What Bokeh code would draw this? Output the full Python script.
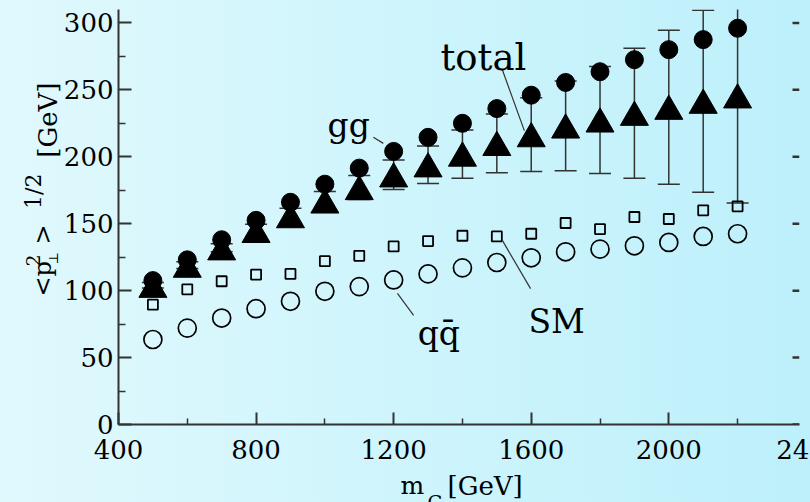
import math
from bokeh.plotting import figure
from bokeh.models import (ColumnDataSource, Range1d, LinearAxis, FixedTicker, Whisker,
                          TeeHead, Label, GlobalInlineStyleSheet)
from bokeh.transform import dodge
from bokeh.embed import file_html
from bokeh.resources import INLINE

# ---------------- data ----------------
mass = [500, 600, 700, 800, 900, 1000, 1100, 1200, 1300, 1400, 1500,
        1600, 1700, 1800, 1900, 2000, 2100, 2200]
gg = [107.5, 123, 138, 152.5, 166, 179.5, 191.5, 204, 214.5, 225, 236,
      246, 255.5, 263.5, 272.5, 280, 287.5, 296]
total = [104, 119, 132, 145, 156, 167, 177, 186.5, 194, 202, 210,
         216.5, 223, 227.5, 232.5, 237, 241.5, 245.5]
total_err = [2, 2.5, 3, 4.5, 5.5, 7, 9, 11, 14, 18, 22,
             27.5, 33.5, 40, 48.5, 57.5, 68, 80]
sm = [89.5, 101, 107, 112, 112.5, 122, 126, 133, 137, 141, 140.5,
      142.5, 150.5, 146, 155, 153.5, 160, 163]
qqbar = [63.5, 72, 79.5, 86.5, 92, 99.5, 103, 108, 112.5, 117, 121,
         124.5, 129, 131, 133.5, 136, 140.5, 142.5]

x_ticks = [400, 800, 1200, 1600, 2000, 2400]
x_minor = [600, 1000, 1400, 1800, 2200]
y_ticks = [0, 50, 100, 150, 200, 250, 300]
y_minor = [25, 75, 125, 175, 225, 275]

# ---------------- styling ----------------
FONT = "DejaVu Serif"
AX = "#333333"
X0, X1, Y0, Y1 = 400, 2380, 0, 310
FW, FH = 681, 415          # frame size in px
FL, FB = 118, 424          # frame left / bottom in page px
XPP = (X1 - X0) / FW       # data units per pixel along x

def px(rx, ry):
    """page pixel -> data coordinates (for placing titles outside the frame)"""
    return X0 + (rx - FL) * XPP, Y0 + (FB - ry) * (Y1 - Y0) / FH

src = ColumnDataSource(dict(
    mass=mass, gg=gg, total=total, sm=sm, qq=qqbar,
    upper=[t + e for t, e in zip(total, total_err)],
    lower=[t - e for t, e in zip(total, total_err)],
))

p = figure(frame_width=FW, frame_height=FH, x_range=Range1d(X0, X1), y_range=Range1d(Y0, Y1),
           output_backend="svg", toolbar_location=None,
           x_axis_location=None, y_axis_location=None)
p.min_border_left = FL
p.min_border_right = 11
p.min_border_top = 9
p.min_border_bottom = 78
p.outline_line_color = None
p.background_fill_color = None
p.border_fill_color = None
p.xgrid.grid_line_color = None
p.ygrid.grid_line_color = None
p.stylesheets = [GlobalInlineStyleSheet(
    css="html, body { overflow: hidden !important; "
        "background: linear-gradient(to right, #e0f9fd, #bdf0fb) !important; }")]

# axes
xb = LinearAxis(ticker=FixedTicker(ticks=x_ticks, minor_ticks=x_minor))
yl = LinearAxis(ticker=FixedTicker(ticks=y_ticks, minor_ticks=y_minor))
for ax in (xb, yl):
    ax.axis_line_color = AX
    ax.axis_line_width = 2
    ax.major_tick_line_color = AX
    ax.minor_tick_line_color = AX
    ax.major_tick_line_width = 2
    ax.minor_tick_line_width = 1.5
    ax.major_tick_out = 0
    ax.minor_tick_out = 0
    ax.major_label_text_font = FONT
    ax.major_label_text_font_size = "26px"
    ax.major_label_text_color = "black"
xb.major_tick_in = 12
xb.minor_tick_in = 6
xb.major_label_standoff = 15
yl.major_tick_in = 13
yl.minor_tick_in = 7
yl.major_label_standoff = 5
p.add_layout(xb, "below")
p.add_layout(yl, "left")

# short inward ticks along the right edge of the frame
p.segment(x0=[X1 - 7 * XPP] * len(y_ticks), y0=y_ticks,
          x1=[X1] * len(y_ticks), y1=y_ticks, line_color=AX, line_width=2.5)

# markers
p.scatter("mass", "sm", source=src, marker="square", size=10, fill_color=None,
          line_color="black", line_width=1.8)
p.scatter("mass", "qq", source=src, marker="circle", size=18, fill_color=None,
          line_color="black", line_width=1.7)
wh = Whisker(source=src, base="mass", upper="upper", lower="lower", dimension="height",
             line_color=AX, line_width=1.5, level="underlay",
             upper_head=TeeHead(size=22, line_color=AX, line_width=1.5),
             lower_head=TeeHead(size=22, line_color=AX, line_width=1.5))
p.add_layout(wh)
p.scatter("mass", dodge("total", -3, range=p.y_range), source=src, marker="triangle",
          size=28, color="black")
p.scatter("mass", "gg", source=src, marker="circle", size=18, color="black")

# annotation leader lines (data-space positions of the callouts)
p.segment(x0=[1516, 1141, 1516, 1211], y0=[265, 214.5, 137.5, 98],
          x1=[1580, 1170, 1598, 1258], y1=[219.5, 210, 101.5, 81.5],
          line_color=AX, line_width=1.2)

def lab(text, x, y, size, side=None, **kw):
    kw.setdefault("text_baseline", "alphabetic")
    l = Label(x=x, y=y, text=text, text_font=FONT, text_font_size=size,
              text_color="black", **kw)
    if side is None:
        p.add_layout(l)
    else:
        p.add_layout(l, side)   # side-panel annotations are not clipped to the frame

lab("total", 1336, 274, "37px")
lab("gg", 1008, 223.5, "33px")
lab("SM", 1592, 77, "33px")
lab("q\u0071\u0304", 1270, 68, "33px")

# "2400" tick label just beyond the frame edge
lab("2400", 2400, px(0, FB + 15)[1], "26px", side="right", text_align="center",
    text_baseline="top", x_offset=3)

# x axis title m_G [GeV]
lab("m", *px(400, 485), "25px", side="right")
lab("G", *px(427, 501), "19px", side="right")
lab("[GeV]", *px(447, 485), "26px", side="right")

# y axis title <p_perp^2>^{1/2} [GeV]
rot = dict(angle=math.pi / 2)
lab("<p", *px(42, 296), "24px", side="right", **rot)
lab("\u22a5", *px(53, 264), "13px", side="right", **rot)
lab("2", *px(32, 266), "19px", side="right", **rot)
lab(">", *px(42, 244), "24px", side="right", **rot)
lab("1/2", *px(33, 173), "22px", side="right", text_align="right", **rot)
lab("[GeV]", *px(47, 82), "26px", side="right", text_align="right", **rot)

open("out.html", "w").write(file_html(p, INLINE))
